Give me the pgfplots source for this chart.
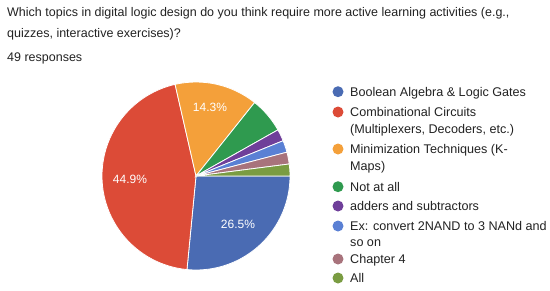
\documentclass[border=0pt]{standalone}
\usepackage{pgfplots}
\pgfplotsset{compat=1.18}
\usepackage{fontspec}
\setmainfont{Liberation Sans}
\definecolor{cA}{HTML}{4A6BB3}
\definecolor{cB}{HTML}{DC4B37}
\definecolor{cC}{HTML}{F4A03A}
\definecolor{cD}{HTML}{2F9A4F}
\definecolor{cE}{HTML}{6F3F9A}
\definecolor{cF}{HTML}{5A80D4}
\definecolor{cG}{HTML}{A8737C}
\definecolor{cH}{HTML}{7A9C42}
\definecolor{txt}{HTML}{222222}
\begin{document}
\begin{tikzpicture}
\begin{axis}[
  at={(0,0)}, anchor=north west,
  width=550pt, height=290pt, scale only axis,
  xmin=0, xmax=550, ymin=0, ymax=290, y dir=reverse,
  hide axis, clip=false]
% responses per answer (49 in total)
\gdef\cum{0}
\foreach \v/\c in {13/cA,22/cB,7/cC,3/cD,1/cE,1/cF,1/cG,1/cH}{%
  \pgfmathsetmacro\d{-360*\v/49}%
  \edef\temp{\noexpand\fill[\c, draw=white, line width=0.8pt] (axis cs:196,176) -- ++(\cum:94pt) arc[start angle=\cum, delta angle=\d, radius=94pt] -- cycle;}%
  \temp
  \pgfmathsetmacro\nc{\cum+\d}%
  \xdef\cum{\nc}%
}
\begin{scope}[font=\fontsize{12}{14}\selectfont, text=white]
\node[anchor=center] at (axis cs:238,224) {26.5\%};
\node[anchor=center] at (axis cs:130,179) {44.9\%};
\node[anchor=center] at (axis cs:210,107) {14.3\%};
\end{scope}
\begin{scope}[font=\fontsize{12.5}{15}\selectfont, text=txt]
\node[anchor=base west, inner sep=0] at (axis cs:7,16.5) {Which topics in digital logic design do you think require more active learning activities (e.g.,};
\node[anchor=base west, inner sep=0] at (axis cs:7,37.5) {quizzes, interactive exercises)?};
\node[anchor=base west, inner sep=0] at (axis cs:7,61.5) {49 responses};
\end{scope}
\begin{scope}[font=\fontsize{12.6}{15}\selectfont, text=txt]
\foreach \y/\c/\t in {91.7/cA/{Boolean Algebra \& Logic Gates},112/cB/{Combinational Circuits},149/cC/{Minimization Techniques (K-},186.7/cD/{Not at all},206/cE/{adders and subtractors},226/cF/{Ex: convert 2NAND to 3 NANd and},259/cG/{Chapter 4},278/cH/{All}}{%
  \edef\temp{\noexpand\fill[\c] (axis cs:338,\y) circle[radius=5.5pt];
    \noexpand\node[anchor=base west, inner sep=0] at (axis cs:350,\y+4.5) {\unexpanded\expandafter{\t}};}%
  \temp
}
\node[anchor=base west, inner sep=0] at (axis cs:350,133.5) {(Multiplexers, Decoders, etc.)};
\node[anchor=base west, inner sep=0] at (axis cs:350,170.5) {Maps)};
\node[anchor=base west, inner sep=0] at (axis cs:350,246.5) {so on};
\end{scope}
\end{axis}
\pgfresetboundingbox
\path[use as bounding box] (0,0) rectangle (550pt,-290pt);
\end{tikzpicture}
\end{document}
